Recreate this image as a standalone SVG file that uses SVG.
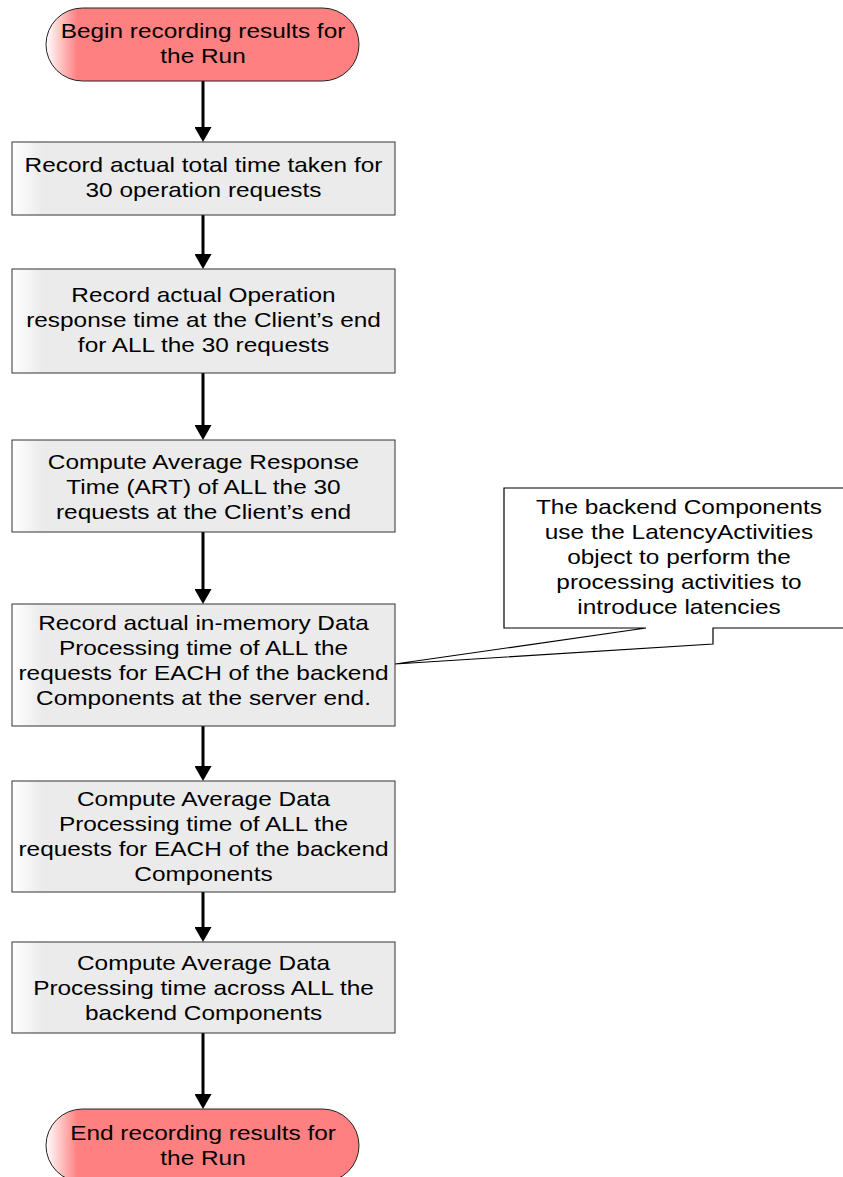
<svg xmlns="http://www.w3.org/2000/svg" width="843" height="1177" viewBox="0 0 843 1177">
<defs>
<style>
.box{fill:url(#gBox);stroke:#333;stroke-width:1}
.term{fill:url(#gTerm);stroke:#222;stroke-width:1}
.call{fill:#fff;stroke:#000;stroke-width:1.2}
.t{font-family:"Liberation Sans",Arial,sans-serif;font-size:20px;fill:#000;text-anchor:middle}
.c{stroke:#000;stroke-width:3;fill:none;marker-end:url(#ah)}
</style>
<linearGradient id="gBox" x1="0" y1="0" x2="1" y2="0">
<stop offset="0" stop-color="#ffffff"/>
<stop offset="0.08" stop-color="#ebebeb"/>
<stop offset="1" stop-color="#ebebeb"/>
</linearGradient>
<linearGradient id="gTerm" x1="0" y1="0" x2="1" y2="0">
<stop offset="0" stop-color="#ffffff"/>
<stop offset="0.1" stop-color="#ff8080"/>
<stop offset="1" stop-color="#ff8080"/>
</linearGradient>
<marker id="ah" viewBox="0 0 15 17" refX="2" refY="8.5" markerWidth="15" markerHeight="17" markerUnits="userSpaceOnUse" orient="auto">
<path d="M0,0 L15,8.5 L0,17 Z" fill="#000"/>
</marker>
</defs>

<g id="connectors">
<line class="c" x1="203" y1="81" x2="203" y2="129"/>
<line class="c" x1="203" y1="215" x2="203" y2="256"/>
<line class="c" x1="203" y1="373" x2="203" y2="427"/>
<line class="c" x1="203" y1="532" x2="203" y2="591"/>
<line class="c" x1="203" y1="726" x2="203" y2="768"/>
<line class="c" x1="203" y1="892" x2="203" y2="929"/>
<line class="c" x1="203" y1="1033" x2="203" y2="1096"/>
</g>

<g id="begin">
<rect class="term" x="46" y="8" width="313" height="73" rx="36.5" ry="36.5"/>
<text class="t" transform="translate(203,0) scale(1.22,1)"><tspan x="0" y="38">Begin recording results for</tspan><tspan x="0" y="63">the Run</tspan></text>
</g>

<g id="step1">
<rect class="box" x="12" y="142" width="383" height="73"/>
<text class="t" transform="translate(203.5,0) scale(1.22,1)"><tspan x="0" y="172">Record actual total time taken for</tspan><tspan x="0" y="197">30 operation requests</tspan></text>
</g>

<g id="step2">
<rect class="box" x="12" y="269" width="383" height="104"/>
<text class="t" transform="translate(203.5,0) scale(1.22,1)"><tspan x="0" y="302">Record actual Operation</tspan><tspan x="0" y="327">response time at the Client’s end</tspan><tspan x="0" y="352">for ALL the 30 requests</tspan></text>
</g>

<g id="step3">
<rect class="box" x="12" y="440" width="383" height="92"/>
<text class="t" transform="translate(203.5,0) scale(1.22,1)"><tspan x="0" y="469">Compute Average Response</tspan><tspan x="0" y="494">Time (ART) of ALL the 30</tspan><tspan x="0" y="519">requests at the Client’s end</tspan></text>
</g>

<g id="step4">
<rect class="box" x="12" y="604" width="383" height="122"/>
<text class="t" transform="translate(203.5,0) scale(1.22,1)"><tspan x="0" y="630">Record actual in-memory Data</tspan><tspan x="0" y="655">Processing time of ALL the</tspan><tspan x="0" y="680">requests for EACH of the backend</tspan><tspan x="0" y="705">Components at the server end.</tspan></text>
</g>

<g id="step5">
<rect class="box" x="12" y="781" width="383" height="111"/>
<text class="t" transform="translate(203.5,0) scale(1.22,1)"><tspan x="0" y="806">Compute Average Data</tspan><tspan x="0" y="831">Processing time of ALL the</tspan><tspan x="0" y="856">requests for EACH of the backend</tspan><tspan x="0" y="881">Components</tspan></text>
</g>

<g id="step6">
<rect class="box" x="12" y="942" width="383" height="91"/>
<text class="t" transform="translate(203.5,0) scale(1.22,1)"><tspan x="0" y="970">Compute Average Data</tspan><tspan x="0" y="995">Processing time across ALL the</tspan><tspan x="0" y="1020">backend Components</tspan></text>
</g>

<g id="end">
<rect class="term" x="46" y="1109" width="313" height="73" rx="36.5" ry="36.5"/>
<text class="t" transform="translate(203,0) scale(1.22,1)"><tspan x="0" y="1140">End recording results for</tspan><tspan x="0" y="1165">the Run</tspan></text>
</g>

<g id="callout">
<path class="call" d="M504,488 H855 V628 H713 V644 L395,664 L646,628 H504 Z"/>
<text class="t" transform="translate(679,0) scale(1.22,1)"><tspan x="0" y="514">The backend Components</tspan><tspan x="0" y="539">use the LatencyActivities</tspan><tspan x="0" y="564">object to perform the</tspan><tspan x="0" y="589">processing activities to</tspan><tspan x="0" y="614">introduce latencies</tspan></text>
</g>
</svg>
